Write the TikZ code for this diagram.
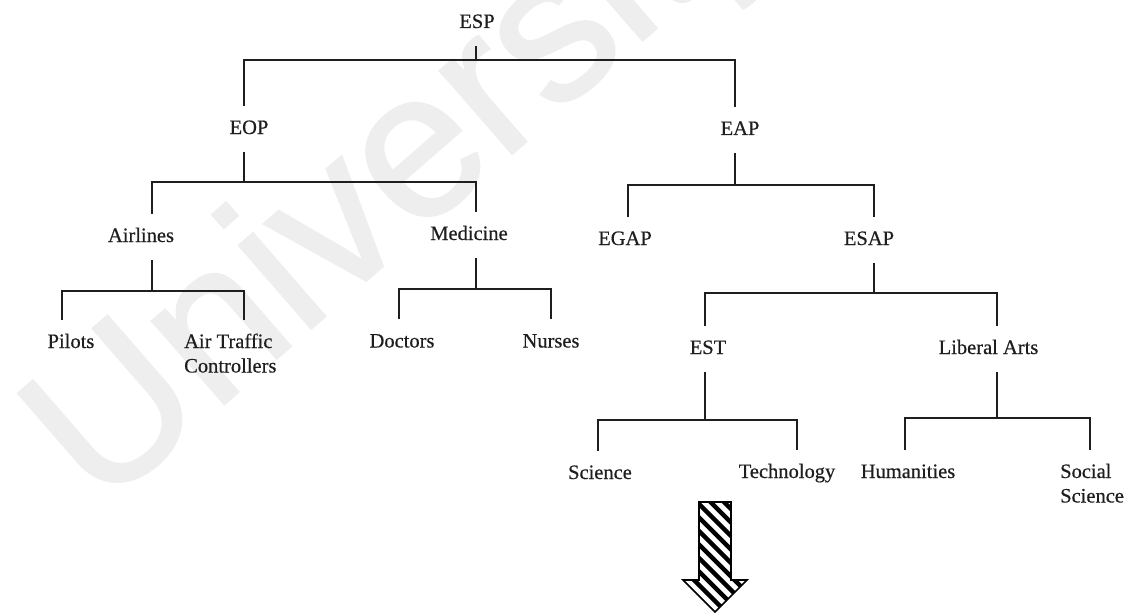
\documentclass[tikz,border=0pt]{standalone}
\usepackage{fontspec}
\setmainfont{Liberation Serif}
\newfontfamily\lblfont{Liberation Serif}[FakeBold=0.5]
\newfontfamily\wmfont{Liberation Sans}[FakeBold=1.2]
\definecolor{wmgray}{RGB}{238,238,238}
\definecolor{inkc}{RGB}{30,30,30}
\begin{document}
\begin{tikzpicture}[x=1pt,y=-1pt,
  lbl/.style={inner xsep=0pt,inner ysep=14pt,text height=14pt,text depth=4pt,
    font=\lblfont\fontsize{20.5}{24.5}\selectfont,text=inkc},
  conn/.style={draw=inkc,line width=1.9pt},
  stripe/.style={line width=4.5pt,black}]
\useasboundingbox (0,0) rectangle (1134,615);
% watermark
\begin{scope}
\clip (0,0) rectangle (1134,615);
\node[anchor=base west,inner sep=0pt,rotate=41,text=wmgray,
  font=\wmfont\fontsize{208}{212}\selectfont] (wm) at (100,512) {University};
\end{scope}
% labels
\node[lbl,anchor=base] (ESP) at (477,28) {ESP};
\node[lbl,anchor=base] (EOP) at (249,134) {EOP};
\node[lbl,anchor=base] (EAP) at (740,135) {EAP};
\node[lbl,anchor=base] (AIR) at (141,242) {Airlines};
\node[lbl,anchor=base] (MED) at (469,240) {Medicine};
\node[lbl,anchor=base] (EGAP) at (625,245) {EGAP};
\node[lbl,anchor=base] (ESAP) at (869,245) {ESAP};
\node[lbl,anchor=base] (PIL) at (71,348) {Pilots};
\node[lbl,anchor=base west] (ATC) at (184,348) {\begin{tabular}[t]{@{}l@{}}Air Traffic\\Controllers\end{tabular}};
\node[lbl,anchor=base] (DOC) at (402,347.5) {Doctors};
\node[lbl,anchor=base] (NUR) at (551,347.5) {Nurses};
\node[lbl,anchor=base] (EST) at (708,354) {EST};
\node[lbl,anchor=base] (LIB) at (988.5,354) {Liberal Arts};
\node[lbl,anchor=base] (SCI) at (600,479) {Science};
\node[lbl,anchor=base] (TEC) at (787,478) {Technology};
\node[lbl,anchor=base] (HUM) at (908,478) {Humanities};
\node[lbl,anchor=base west] (SOC) at (1060,478) {\begin{tabular}[t]{@{}l@{}}Social\\Science\end{tabular}};
% stub points
\coordinate (ESPb) at ([xshift=-1pt]ESP.south);
\coordinate (EOPt) at ([xshift=-5pt]EOP.north);
\coordinate (EOPb) at ([xshift=-5pt]EOP.south);
\coordinate (EAPt) at ([xshift=-5pt]EAP.north);
\coordinate (EAPb) at ([xshift=-5pt]EAP.south);
\coordinate (AIRt) at ([xshift=11pt]AIR.north);
\coordinate (AIRb) at ([xshift=11pt]AIR.south);
\coordinate (MEDt) at ([xshift=7pt]MED.north);
\coordinate (MEDb) at ([xshift=7pt]MED.south);
\coordinate (EGAPt) at ([xshift=3pt]EGAP.north);
\coordinate (ESAPt) at ([xshift=5pt]ESAP.north);
\coordinate (ESAPb) at ([xshift=5pt]ESAP.south);
\coordinate (PILt) at ([xshift=-9pt]PIL.north);
\coordinate (ATCt) at ([xshift=60pt]ATC.north west);
\coordinate (DOCt) at ([xshift=-3pt]DOC.north);
\coordinate (NURt) at (NUR.north);
\coordinate (ESTt) at ([xshift=-3pt]EST.north);
\coordinate (ESTb) at ([xshift=-3pt]EST.south);
\coordinate (LIBt) at ([xshift=8.5pt]LIB.north);
\coordinate (LIBb) at ([xshift=8.5pt]LIB.south);
\coordinate (SCIt) at ([xshift=-2pt]SCI.north);
\coordinate (TECt) at ([xshift=10pt]TEC.north);
\coordinate (HUMt) at ([xshift=-3pt]HUM.north);
\coordinate (SOCt) at ([xshift=30pt]SOC.north west);
% bar levels
\coordinate (bESP) at (0,60);
\coordinate (bEOP) at (0,182);
\coordinate (bEAP) at (0,185);
\coordinate (bAIR) at (0,291);
\coordinate (bMED) at (0,289);
\coordinate (bESAP) at (0,293);
\coordinate (bEST) at (0,420);
\coordinate (bLIB) at (0,418);
% connectors
\draw[conn] (ESPb) -- (ESPb |- bESP);
\draw[conn] (EOPt) |- (bESP -| EAPt) -- (EAPt);
\draw[conn] (EOPb) -- (EOPb |- bEOP);
\draw[conn] (AIRt) |- (bEOP -| MEDt) -- (MEDt);
\draw[conn] (EAPb) -- (EAPb |- bEAP);
\draw[conn] (EGAPt) |- (bEAP -| ESAPt) -- (ESAPt);
\draw[conn] (AIRb) -- (AIRb |- bAIR);
\draw[conn] (PILt) |- (bAIR -| ATCt) -- (ATCt);
\draw[conn] (MEDb) -- (MEDb |- bMED);
\draw[conn] (DOCt) |- (bMED -| NURt) -- (NURt);
\draw[conn] (ESAPb) -- (ESAPb |- bESAP);
\draw[conn] (ESTt) |- (bESAP -| LIBt) -- (LIBt);
\draw[conn] (ESTb) -- (ESTb |- bEST);
\draw[conn] (SCIt) |- (bEST -| TECt) -- (TECt);
\draw[conn] (LIBb) -- (LIBb |- bLIB);
\draw[conn] (HUMt) |- (bLIB -| SOCt) -- (SOCt);
% hatched block arrow
\path[fill=white] (699,502) -- (731,502) -- (731,580) -- (747,580) -- (715,612) -- (683,580) -- (699,580) -- cycle;
\begin{scope}
\clip (699,502) -- (731,502) -- (731,580) -- (747,580) -- (715,612) -- (683,580) -- (699,580) -- cycle;
\foreach \k in {-8,...,11} {
  \draw[stripe] (660,492+13.5*\k) -- ++(120,120);
}
\end{scope}
\draw[line width=1.6pt,black,line join=miter] (699,502) -- (731,502) -- (731,580) -- (747,580) -- (715,612) -- (683,580) -- (699,580) -- cycle;
\end{tikzpicture}
\end{document}
